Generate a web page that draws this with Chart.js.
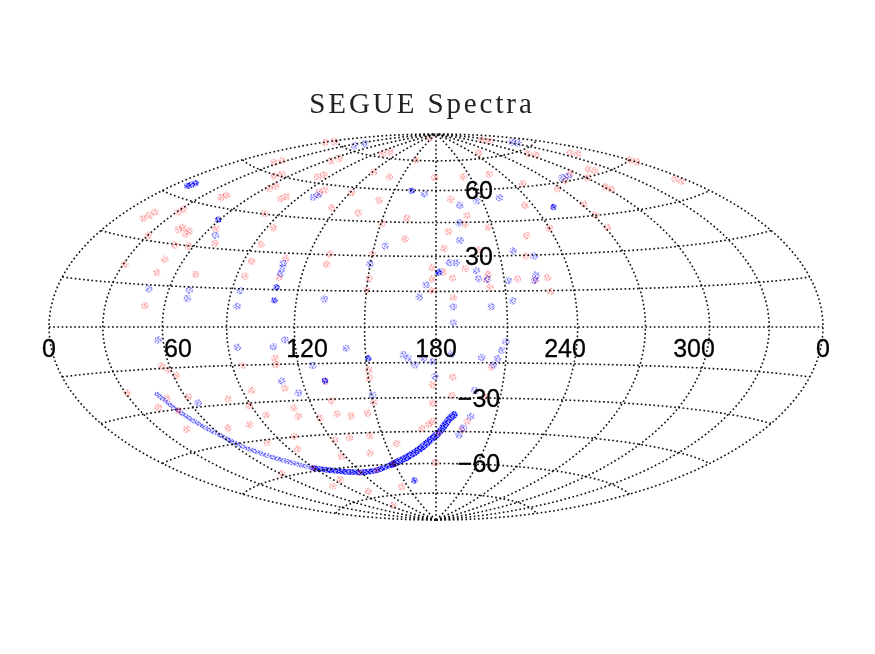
<!DOCTYPE html>
<html>
<head>
<meta charset="utf-8">
<title>SEGUE Spectra</title>
<script src="https://cdn.jsdelivr.net/npm/chart.js@4/dist/chart.umd.min.js"></script>
<style>
  body { margin: 0; background: #fff; }
  canvas { display: block; }
</style>
</head>
<body>
<canvas id="sky-chart" width="875" height="654"></canvas>
<script>
const titleText = 'SEGUE Spectra';
const gridLons = [0, 30, 60, 90, 120, 150, 180, 210, 240, 270, 300, 330, 360];
const gridLats = [-75, -60, -45, -30, -15, 0, 15, 30, 45, 60, 75];
const lonTicks = [0, 60, 120, 180, 240, 300, 360];
const lonTickLabels = ['0', '60', '120', '180', '240', '300', '0'];
const latTicks = [60, 30, -30, -60];
const latTickLabels = ['60', '30', '\u221230', '\u221260'];

// [lon, lat] of the plates
const redPlates = [
  [1.3,73.3],[2.7,74.7],[98.7,76.7],[103.1,78.1],[134.5,87.4],[25.2,63.3],[26.3,64.7],[63.9,69.6],[65.3,71.2],
  [50.3,59.4],[52.2,60.7],[81.6,62.5],[83.4,63.8],[62.6,54.9],[64.2,56.2],[99.2,56.3],[101.1,57.4],[42.4,48.4],
  [43.7,49.5],[80.0,51.8],[81.4,52.9],[121.1,57.5],[121.5,67.8],[139.0,66.1],[153.5,75.2],[179.1,66.3],[143.0,54.7],
  [163.5,47.0],[134.7,48.6],[116.8,50.2],[150.8,44.2],[81.1,45.2],[93.7,39.9],[15.8,36.4],[16.9,37.7],[17.6,39.0],
  [31.1,40.7],[31.7,41.9],[43.3,35.2],[44.3,36.2],[49.8,34.1],[50.3,35.2],[30.1,31.7],[49.7,29.7],[57.2,29.9],
  [69.9,31.8],[63.2,37.4],[93.6,33.0],[93.9,26.0],[93.9,20.0],[70.0,19.7],[50.2,24.4],[50.1,19.5],[31.0,21.2],
  [50.4,7.6],[109.6,27.8],[110.1,20.0],[129.9,30.3],[129.9,25.9],[150.0,30.7],[150.5,20.2],[150.1,15.4],[164.5,37.6],
  [178.3,25.2],[178.4,20.3],[178.4,15.4],[319.0,82.6],[318.7,81.3],[249.8,77.9],[303.3,73.2],[306.3,72.0],[339.4,68.7],
  [341.0,67.5],[315.4,62.5],[317.0,61.4],[360.0,59.9],[360.0,58.8],[354.4,51.1],[355.1,49.9],[300.9,55.2],[302.0,54.0],
  [228.9,67.2],[204.0,66.4],[247.2,61.4],[295.5,62.8],[281.6,60.5],[267.4,57.6],[300.7,59.8],[189.6,55.6],[235.0,51.7],
  [271.5,50.2],[271.1,45.3],[197.6,48.1],[195.7,44.1],[207.8,42.6],[239.9,41.0],[271.3,39.8],[186.4,40.8],[226.1,38.3],
  [183.8,33.4],[200.2,32.6],[222.2,29.7],[193.1,24.6],[203.3,22.2],[187.3,20.6],[183.3,23.3],[215.9,20.0],[202.3,20.1],
  [223.6,19.4],[229.4,20.4],[203.4,16.6],[229.6,14.6],[187.4,12.4],[56.2,-14.1],[58.7,-15.6],[61.6,-17.9],[30.9,-22.5],
  [41.5,-28.5],[49.8,-25.7],[50.6,-30.5],[61.3,-26.0],[45.0,-37.2],[80.8,-27.8],[68.4,-38.9],[89.1,-31.1],[81.5,-38.5],
  [94.6,-25.0],[94.6,-15.1],[94.7,-35.1],[81.5,-46.1],[110.2,-12.6],[110.0,-15.2],[110.8,-24.8],[110.6,-33.1],[110.4,-36.5],
  [100.2,-44.8],[94.9,-50.0],[130.2,-22.5],[130.5,-30.7],[120.9,-37.8],[130.4,-36.4],[137.2,-37.4],[145.9,-36.4],[143.0,-46.3],
  [130.8,-46.8],[121.5,-47.7],[137.5,-54.2],[117.6,-54.9],[156.6,-50.3],[150.8,-17.9],[150.4,-21.5],[150.5,-31.7],[178.5,-24.5],
  [178.4,-32.4],[178.3,-40.5],[172.3,-43.8],[176.0,-41.7],[179.3,-59.5],[60.9,-58.7],[95.5,-65.0],[79.9,-67.2],[102.9,-71.7],
  [143.3,-71.2],[96.6,-79.8],[187.4,-21.2],[187.3,-29.1],[203.9,-16.9],[203.4,-29.8],[196.2,-40.4],[193.9,-44.2]
];
const redOnArc = [[89.3,-58.6],[119.1,-62.8],[133.4,-62.4],[148.7,-59.9],[181.3,-45.7],[50.6,-30.5]];

const bluePlates = [
  [37.9,76.7],[37.9,78.4],[99.2,54.0],[100.6,55.3],[66.5,34.9],[171.9,58.3],[155.4,34.3],[149.8,26.5],
  [109.5,25.7],[110.0,23.7],[110.1,21.6],[93.9,14.2],[70.0,13.8],[50.0,13.5],[70.2,10.6],[94.1,8.1],[132.2,11.5],
  [181.5,23.2],[175.7,17.8],[172.9,12.6],[336.0,78.1],[334.1,77.1],[283.1,61.7],[289.3,61.8],[222.2,55.8],
  [206.3,54.7],[194.9,52.9],[192.7,44.8],[191.9,36.9],[216.9,32.0],[226.0,29.5],[186.1,27.2],[189.2,27.2],
  [198.2,23.8],[198.6,20.3],[202.6,20.1],[211.8,19.3],[223.6,19.4],[224.5,21.5],[212.7,10.9],[187.3,8.5],
  [203.4,8.6],[187.3,1.7],[57.6,-4.7],[94.2,-7.9],[110.3,-7.9],[115.7,-5.2],[141.8,-8.8],[126.3,-15.8],
  [110.5,-21.8],[116.1,-27.0],[64.2,-28.5],[150.6,-28.6],[179.6,-20.9],[166.1,-11.7],[168.2,-13.1],[170.9,-16.0],
  [174.6,-13.1],[178.6,-14.6],[209.5,-6.1],[207.9,-9.6],[206.4,-13.1],[204.8,-15.9],[199.5,-12.7],[186.7,-11.3],
  [197.8,-26.8],[197.5,-38.2],[194.7,-43.4],[192.9,-46.4]
];
const denseBluePlates = [
  [9.2,48.6],[9.9,49.3],[10.5,50.1],[59.1,40.7],[162.4,59.8],[110.1,15.9],[110.3,10.7],[181.0,23.1],[251.5,50.1],
  [151.0,-13.0],[159.6,-68.3],[130.3,-22.2]
];

// the long stripe of dense spectra, in four stretches of differing density
const stripeWest = [[46.1,-23.9],[48.2,-27.0],[50.6,-30.5],[52.8,-33.8],[55.8,-37.1],[58.8,-40.3],[61.6,-43.5]];
const stripeMid = [[61.6,-43.5],[64.5,-46.5],[68.3,-49.1],[72.3,-51.6],[77.0,-53.9],[82.1,-56.1],[89.3,-58.6]];
const stripeSouth = [[89.3,-58.6],[98.6,-60.5],[109.6,-61.9],[119.1,-62.8],[133.4,-62.4],[148.7,-59.9]];
const stripeEast = [[148.7,-59.9],[160.2,-56.9],[170.0,-53.0],[176.5,-49.1],[181.3,-45.7],[184.4,-42.3],[187.1,-39.1],[189.0,-37.5]];

// Hammer equal-area projection, centred on lon 180
function hammer(lon, lat) {
  const l = (lon - 180) * Math.PI / 360;
  const p = lat * Math.PI / 180;
  const d = Math.sqrt(1 + Math.cos(p) * Math.cos(l));
  return { x: 2 * Math.SQRT2 * Math.cos(p) * Math.sin(l) / d, y: Math.SQRT2 * Math.sin(p) / d };
}
const toXY = (list) => list.map((pt) => hammer(pt[0], pt[1]));

// speckled fill for the marks, the plates are clouds of tiny dots rather than discs
const skyContext = document.getElementById('sky-chart').getContext('2d');
function speckle(r, g, b, alphas) {
  const tile = document.createElement('canvas');
  tile.width = 13;
  tile.height = 11;
  const t = tile.getContext('2d');
  for (let y = 0; y < 11; y++) {
    for (let x = 0; x < 13; x++) {
      t.fillStyle = `rgba(${r},${g},${b},${alphas[(x * 3 + y * 5 + (x * y) % 4) % alphas.length]})`;
      t.fillRect(x, y, 1, 1);
    }
  }
  return skyContext.createPattern(tile, 'repeat');
}
const redSpeckle = speckle(255, 0, 0, [0.06, 0.3, 0.12, 0.04, 0.22, 0.1, 0.34]);
const blueSpeckle = speckle(0, 0, 255, [0.08, 0.4, 0.16, 0.05, 0.32, 0.14, 0.46]);
const denseSpeckle = speckle(0, 0, 255, [0.3, 0.75, 0.45, 0.25, 0.65, 0.4, 0.85]);
const stripeLight = speckle(30, 30, 255, [0.15, 0.6, 0.3, 0.12, 0.5, 0.25, 0.7]);
const stripeDark = speckle(0, 0, 255, [0.45, 0.9, 0.65, 0.35, 0.8, 0.55, 0.95]);

const gridDatasets = [];
const gridStyle = {
  showLine: true, pointRadius: 0, borderColor: '#111', borderWidth: 1.6, borderDash: [1.7, 2.5], clip: false, order: 0,
};
gridLons.forEach((lon) => {
  const pts = [];
  for (let lat = -90; lat <= 90; lat += 2) pts.push(hammer(lon, lat));
  gridDatasets.push({ data: pts, ...gridStyle });
});
gridLats.forEach((lat) => {
  const pts = [];
  for (let lon = 0; lon <= 360; lon += 3) pts.push(hammer(lon, lat));
  gridDatasets.push({ data: pts, ...gridStyle });
});

const plateStyle = (fill, r) => ({
  pointRadius: r, pointBackgroundColor: fill, pointBorderWidth: 0, showLine: false, clip: false,
});
const stripeStyle = (color, width) => ({
  showLine: true, pointRadius: 0, borderColor: color, borderWidth: width, tension: 0.4, borderCapStyle: 'round', clip: false,
});

const labelPlugin = {
  id: 'mapLabels',
  afterDraw(chart) {
    const { ctx, chartArea, scales } = chart;
    ctx.save();
    ctx.fillStyle = '#000';
    ctx.strokeStyle = '#000';
    ctx.lineWidth = 0.3;
    ctx.textAlign = 'center';
    ctx.textBaseline = 'middle';
    ctx.font = '25px "Liberation Sans"';
    lonTicks.forEach((lon, i) => {
      const px = chartArea.left + (lon / 360) * chartArea.width;
      const py = scales.y.getPixelForValue(0) + 23;
      ctx.fillText(lonTickLabels[i], px, py);
      ctx.strokeText(lonTickLabels[i], px, py);
    });
    latTicks.forEach((lat, i) => {
      const px = scales.x.getPixelForValue(0) + 43;
      const py = scales.y.getPixelForValue(hammer(180, lat).y) + 2;
      ctx.fillText(latTickLabels[i], px, py);
      ctx.strokeText(latTickLabels[i], px, py);
    });
    ctx.fillStyle = '#222';
    ctx.textBaseline = 'alphabetic';
    ctx.font = '29px "Liberation Serif"';
    ctx.letterSpacing = '2.9px';
    ctx.fillText(titleText, 422, 113);
    ctx.restore();
  },
};

new Chart(skyContext, {
  type: 'scatter',
  data: {
    datasets: [
      ...gridDatasets,
      { data: toXY(redOnArc), order: 1, ...plateStyle(redSpeckle, 3) },
      { data: toXY(stripeWest), order: 2, ...stripeStyle(stripeLight, 4.5) },
      { data: toXY(stripeMid), order: 2, ...stripeStyle(stripeLight, 4.5) },
      { data: toXY(stripeSouth), order: 2, ...stripeStyle(stripeDark, 5.5) },
      { data: toXY(stripeEast), order: 2, ...stripeStyle(stripeDark, 7) },
      { data: toXY(denseBluePlates), order: 3, ...plateStyle(denseSpeckle, 3.2) },
      { data: toXY(bluePlates), order: 4, ...plateStyle(blueSpeckle, 3.8) },
      { data: toXY(redPlates), order: 5, ...plateStyle(redSpeckle, 3.8) },
    ],
  },
  plugins: [labelPlugin],
  options: {
    responsive: false,
    animation: false,
    layout: { padding: { left: 49, right: 52, top: 134, bottom: 134 } },
    plugins: { legend: { display: false }, tooltip: { enabled: false } },
    scales: {
      x: { display: false, min: -2 * Math.SQRT2, max: 2 * Math.SQRT2 },
      y: { display: false, min: -Math.SQRT2, max: Math.SQRT2 },
    },
  },
});
</script>
</body>
</html>
